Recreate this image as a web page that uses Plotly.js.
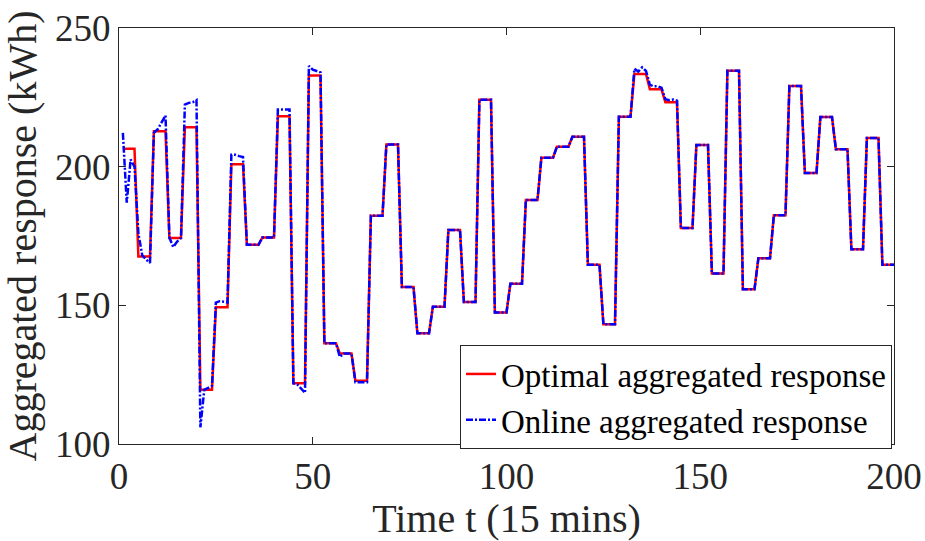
<!DOCTYPE html>
<html>
<head>
<meta charset="utf-8">
<script src="https://cdn.plot.ly/plotly-3.0.1.min.js"></script>
<style>html,body{margin:0;padding:0;background:#fff;}#chart{width:925px;height:541px;}</style>
</head>
<body>
<div id="chart"></div>
<script>
// Time steps t = 1..200 (15-minute intervals)
const timeSteps = Array.from({length: 200}, (_, i) => i + 1);

// Optimal aggregated response (kWh), one value per time step
const optimalResponse = [
206.5,206.5,206.5,206.5, 167.6,167.6,167.6,167.6, 212.8,212.8,212.8,212.8, 174.3,174.3,174.3,174.3,
214.2,214.2,214.2,214.2, 119.6,119.6,119.6,119.6, 149.3,149.3,149.3,149.3, 200.9,200.9,200.9,200.9,
171.8,171.8,171.8,171.8, 174.5,174.5,174.5,174.5, 218.2,218.2,218.2,218.2, 121.9,121.9,121.9,121.9,
232.9,232.9,232.9,232.9, 136.3,136.3,136.3,136.3, 132.6,132.6,132.6,132.6, 122.8,122.8,122.8,122.8,
182.3,182.3,182.3,182.3, 208.0,208.0,208.0,208.0, 156.6,156.6,156.6,156.6, 139.9,139.9,139.9,139.9,
149.5,149.5,149.5,149.5, 177.2,177.2,177.2,177.2, 151.2,151.2,151.2,151.2, 224.1,224.1,224.1,224.1,
147.4,147.4,147.4,147.4, 157.8,157.8,157.8,157.8, 188.0,188.0,188.0,188.0, 203.2,203.2,203.2,203.2,
207.2,207.2,207.2,207.2, 210.8,210.8,210.8,210.8, 164.6,164.6,164.6,164.6, 143.2,143.2,143.2,143.2,
218.0,218.0,218.0,218.0, 233.4,233.4,233.4,233.4, 227.9,227.9,227.9,227.9, 223.2,223.2,223.2,223.2,
177.9,177.9,177.9,177.9, 207.8,207.8,207.8,207.8, 161.5,161.5,161.5,161.5, 234.6,234.6,234.6,234.6,
155.8,155.8,155.8,155.8, 167.0,167.0,167.0,167.0, 182.5,182.5,182.5,182.5, 229.1,229.1,229.1,229.1,
197.7,197.7,197.7,197.7, 217.9,217.9,217.9,217.9, 206.3,206.3,206.3,206.3, 170.2,170.2,170.2,170.2,
210.3,210.3,210.3,210.3, 164.6,164.6,164.6,164.6
];

// Online aggregated response (kWh), one value per time step
const onlineResponse = [
212.2,187.0,202.6,200.0, 176.0,168.0,166.5,165.3, 212.2,213.5,216.0,218.5, 174.5,171.0,173.0,174.3,
222.4,223.0,223.2,224.0, 106.0,119.5,120.2,121.0, 151.0,151.5,151.3,151.0, 204.3,204.3,203.8,203.5,
171.8,171.8,171.8,171.8, 174.5,174.5,174.5,174.5, 220.6,220.6,220.6,220.6, 121.9,121.5,120.0,118.4,
236.3,235.0,234.5,234.0, 136.3,136.3,136.3,136.3, 131.4,132.6,132.6,132.6, 122.3,122.3,122.3,122.3,
182.3,182.3,182.3,182.3, 208.0,208.0,208.0,208.0, 156.6,156.6,156.6,156.6, 139.9,139.9,139.9,139.9,
149.5,149.5,149.5,149.5, 177.2,177.2,177.2,177.2, 151.2,151.2,151.2,151.2, 224.1,224.1,224.1,224.1,
147.4,147.4,147.4,147.4, 157.8,157.8,157.8,157.8, 188.0,188.0,188.0,188.0, 203.2,203.2,203.2,203.2,
207.2,207.2,207.2,207.2, 210.8,210.8,210.8,210.8, 164.6,164.6,164.6,164.6, 143.2,143.2,143.2,143.2,
218.0,218.0,218.0,218.0, 235.3,234.3,235.8,234.5, 229.5,229.0,229.0,228.5, 224.3,224.0,224.2,223.8,
177.9,177.9,177.9,177.9, 207.8,207.8,207.8,207.8, 161.5,161.5,161.5,161.5, 234.6,234.6,234.6,234.6,
155.8,155.8,155.8,155.8, 167.0,167.0,167.0,167.0, 182.5,182.5,182.5,182.5, 229.1,229.1,229.1,229.1,
197.7,197.7,197.7,197.7, 217.9,217.9,217.9,217.9, 206.3,206.3,206.3,206.3, 170.2,170.2,170.2,170.2,
210.3,210.3,210.3,210.3, 164.6,164.6,164.6,164.6
];

const seriesNames = ['Optimal aggregated response', 'Online aggregated response'];
const xTicks = [0, 50, 100, 150, 200];
const yTicks = [100, 150, 200, 250];

const serif = 'Liberation Serif';

const traces = [
  {x: timeSteps, y: optimalResponse, name: seriesNames[0], type: 'scatter', mode: 'lines',
   line: {color: '#ff0000', width: 2.5}},
  {x: timeSteps, y: onlineResponse, name: seriesNames[1], type: 'scatter', mode: 'lines',
   line: {color: '#0000ff', width: 2.5, dash: '7px,2px,2px,2px'}}
];

function axisBase() {
  return {
    showgrid: false, zeroline: false, showline: true, mirror: 'ticks',
    linecolor: '#262626', linewidth: 1, ticks: 'inside', ticklen: 7, tickcolor: '#262626',
    tickfont: {family: serif, size: 37, color: '#262626'}
  };
}

const xaxis = axisBase();
xaxis.range = [0, 200];
xaxis.tickvals = xTicks;
xaxis.ticktext = xTicks.map(String);
xaxis.title = {text: 'Time t (15 mins)', font: {family: serif, size: 40, color: '#262626'}, standoff: 10};

const yaxis = axisBase();
yaxis.range = [100, 250];
yaxis.tickvals = yTicks;
yaxis.ticktext = yTicks.map(String);
yaxis.title = {text: 'Aggregated response (kWh)', font: {family: serif, size: 40, color: '#262626'}, standoff: 6};

const layout = {
  width: 925, height: 541,
  font: {family: serif, size: 34, color: '#262626'},
  margin: {l: 119, r: 31, t: 28, b: 97},
  paper_bgcolor: '#ffffff', plot_bgcolor: '#ffffff',
  showlegend: true,
  xaxis: xaxis,
  yaxis: yaxis,
  legend: {
    x: 0.44, y: 0.238, xanchor: 'left', yanchor: 'top',
    bgcolor: '#ffffff', bordercolor: '#262626', borderwidth: 1,
    font: {family: serif, size: 33, color: '#000000'},
    tracegroupgap: 0, itemwidth: 30
  }
};

Plotly.newPlot('chart', traces, layout, {displayModeBar: false, staticPlot: true});
</script>
</body>
</html>
